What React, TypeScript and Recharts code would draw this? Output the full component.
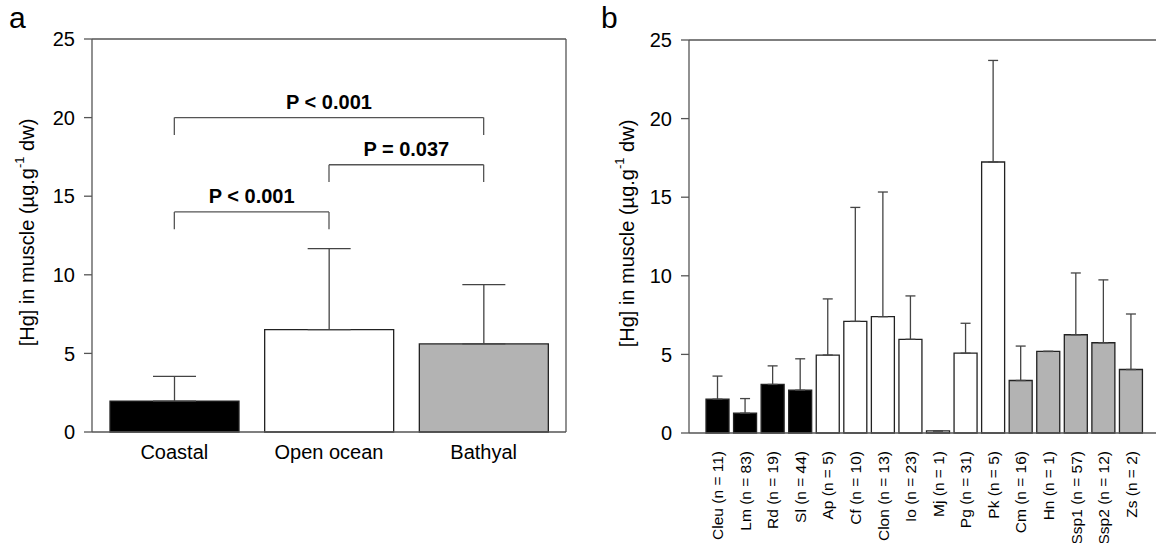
import { Bar, BarChart, Cell, ErrorBar, Label, ReferenceLine, XAxis, YAxis } from "recharts"

// panel a: habitat means
const habitats = ["Coastal", "Open ocean", "Bathyal"]
const habitatMean = [1.97, 6.51, 5.6]
const habitatSd = [1.57, 5.16, 3.78]

// panel b: species means
const species = ["Cleu", "Lm", "Rd", "Sl", "Ap", "Cf", "Clon", "Io", "Mj", "Pg", "Pk", "Cm", "Hn", "Ssp1", "Ssp2", "Zs"]
const speciesN = [11, 83, 19, 44, 5, 10, 13, 23, 1, 31, 5, 16, 1, 57, 12, 2]
const speciesHabitat = [0, 0, 0, 0, 1, 1, 1, 1, 1, 1, 1, 2, 2, 2, 2, 2]
const speciesMean = [2.15, 1.26, 3.09, 2.72, 4.96, 7.1, 7.4, 5.96, 0.13, 5.08, 17.24, 3.34, 5.19, 6.25, 5.74, 4.04]
const speciesSd = [1.47, 0.93, 1.18, 2.0, 3.57, 7.25, 7.93, 2.76, 0, 1.9, 6.46, 2.19, 0, 3.93, 4.0, 3.53]

const yTicks = [0, 5, 10, 15, 20, 25]

const brackets = [
  { from: "Coastal", to: "Bathyal", y: 20, foot: 18.9, label: "P < 0.001" },
  { from: "Open ocean", to: "Bathyal", y: 17, foot: 15.9, label: "P = 0.037" },
  { from: "Coastal", to: "Open ocean", y: 14, foot: 12.9, label: "P < 0.001" },
]

const fills = ["#000000", "#ffffff", "#b3b3b3"]
const FONT = "'Liberation Sans', Arial, sans-serif"
const AXIS = "#555"

const habitatData = habitats.map((name, i) => ({
  name,
  value: habitatMean[i],
  err: [0, habitatSd[i]],
  group: i,
}))

const speciesData = species.map((code, i) => ({
  name: `${code} (n = ${speciesN[i]})`,
  value: speciesMean[i],
  err: [0, speciesSd[i]],
  group: speciesHabitat[i],
}))

const YTitle = (props: any) => {
  const vb = props.viewBox ?? { x: 0, y: 40, width: 90, height: 393 }
  const cx = vb.x + 27
  const cy = vb.y + vb.height / 2 - 3
  return (
    <text
      x={cx}
      y={cy}
      transform={`rotate(-90 ${cx} ${cy})`}
      textAnchor="middle"
      dominantBaseline="central"
      fontSize={20}
      fill="#000"
      fontFamily={FONT}
    >
      [Hg] in muscle (µg.g<tspan dy={-8} fontSize={13}>-1</tspan>
      <tspan dy={8}> dw)</tspan>
    </text>
  )
}

const RotTick = ({ x, y, payload }: any) => (
  <text
    x={x}
    y={y}
    transform={`rotate(-90 ${x} ${y})`}
    textAnchor="end"
    dy="0.35em"
    fontSize={15.5}
    fill="#000"
    fontFamily={FONT}
  >
    {payload.value}
  </text>
)

const yAxisProps = {
  domain: [0, 25] as [number, number],
  ticks: yTicks,
  interval: 0 as const,
  tickSize: 8,
  tickMargin: 9,
  tick: { fontSize: 20, fill: "#000", fontFamily: FONT },
  axisLine: { stroke: AXIS, strokeWidth: 1.3 },
  tickLine: { stroke: AXIS, strokeWidth: 1.3 },
}

const HabitatChart = () => (
  <BarChart width={600} height={543} data={habitatData} margin={{ top: 39, right: 33, left: 0, bottom: 0 }}>
    <XAxis
      dataKey="name"
      height={111}
      interval={0}
      tickLine={false}
      tickSize={0}
      tickMargin={13}
      padding={{ left: 5, right: 5 }}
      axisLine={{ stroke: AXIS, strokeWidth: 1.3 }}
      tick={{ fontSize: 20, fill: "#000", fontFamily: FONT }}
    />
    <YAxis width={92} {...yAxisProps}>
      <Label content={YTitle} />
    </YAxis>
    <YAxis
      yAxisId="r"
      orientation="right"
      width={1}
      domain={[0, 25]}
      tick={false}
      tickLine={false}
      axisLine={{ stroke: AXIS, strokeWidth: 1.3 }}
    />
    <ReferenceLine y={25} stroke={AXIS} strokeWidth={1.3} />
    <Bar dataKey="value" barSize={129} stroke="#222" strokeWidth={1.3} isAnimationActive={false}>
      {habitatData.map((d) => (
        <Cell key={d.name} fill={fills[d.group]} />
      ))}
      <ErrorBar dataKey="err" direction="y" width={21.5} stroke="#444" strokeWidth={1.3} isAnimationActive={false} />
    </Bar>
    {brackets.map((b, i) => (
      <ReferenceLine
        key={"h" + i}
        segment={[
          { x: b.from, y: b.y },
          { x: b.to, y: b.y },
        ]}
        stroke={AXIS}
        strokeWidth={1.3}
        label={{ value: b.label, position: "top", offset: 9, fontSize: 20, fontWeight: "bold", fill: "#000", fontFamily: FONT }}
      />
    ))}
    {brackets.map((b, i) => (
      <ReferenceLine
        key={"l" + i}
        segment={[
          { x: b.from, y: b.y },
          { x: b.from, y: b.foot },
        ]}
        stroke={AXIS}
        strokeWidth={1.3}
      />
    ))}
    {brackets.map((b, i) => (
      <ReferenceLine
        key={"r" + i}
        segment={[
          { x: b.to, y: b.y },
          { x: b.to, y: b.foot },
        ]}
        stroke={AXIS}
        strokeWidth={1.3}
      />
    ))}
  </BarChart>
)

const SpeciesChart = () => (
  <BarChart width={556} height={543} data={speciesData} margin={{ top: 40, right: 0, left: 0, bottom: 0 }}>
    <XAxis
      dataKey="name"
      height={110}
      interval={0}
      tickLine={false}
      tickSize={0}
      tickMargin={18}
      padding={{ left: 15, right: 11 }}
      axisLine={{ stroke: AXIS, strokeWidth: 1.3 }}
      tick={<RotTick />}
    />
    <YAxis width={89} {...yAxisProps}>
      <Label content={YTitle} />
    </YAxis>
    <ReferenceLine y={25} stroke={AXIS} strokeWidth={1.3} />
    <Bar dataKey="value" barSize={23} stroke="#222" strokeWidth={1.3} isAnimationActive={false}>
      {speciesData.map((d) => (
        <Cell key={d.name} fill={fills[d.group]} />
      ))}
      <ErrorBar dataKey="err" direction="y" width={5} stroke="#444" strokeWidth={1.3} isAnimationActive={false} />
    </Bar>
  </BarChart>
)

export default function App() {
  return (
    <div
      style={{
        position: "absolute",
        left: 0,
        top: 0,
        width: 1156,
        height: 543,
        overflow: "hidden",
        background: "#fff",
        fontFamily: FONT,
      }}
    >
      <div style={{ position: "absolute", left: 0, top: 0 }}>
        <HabitatChart />
      </div>
      <div style={{ position: "absolute", left: 600, top: 0 }}>
        <SpeciesChart />
      </div>
      <svg width={1156} height={543} style={{ position: "absolute", left: 0, top: 0, pointerEvents: "none" }}>
        <text x={9} y={28} fontSize={30} fill="#000" fontFamily={FONT}>
          a
        </text>
        <text x={601} y={28} fontSize={30} fill="#000" fontFamily={FONT}>
          b
        </text>
      </svg>
    </div>
  )
}
